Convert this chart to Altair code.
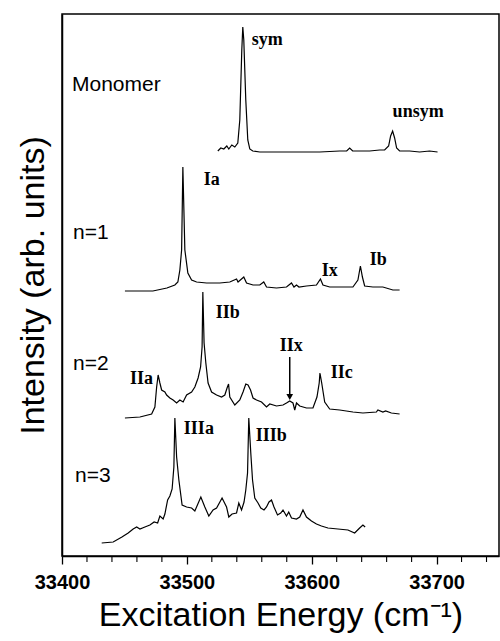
import altair as alt
import pandas as pd

# ---------------- data ----------------
series_names = ["Monomer", "n=1", "n=2", "n=3"]
offsets = [40.4, 26.5, 13.8, 1.3]   # vertical stacking offsets (arb. units)

mono_x = [33524.8, 33527.2, 33529.6, 33532.0, 33533.6, 33536.0, 33538.4, 33540.8, 33542.4, 33544.0,
          33544.8, 33545.6, 33547.2, 33548.8, 33550.4, 33552.8, 33558.4, 33574.4, 33590.4, 33606.4,
          33622.4, 33628.0, 33630.4, 33632.8, 33638.4, 33646.4, 33654.4, 33658.4, 33661.6, 33663.2,
          33664.8, 33666.4, 33668.0, 33670.4, 33678.4, 33686.4, 33694.4, 33700.8]
mono_y = [0.1, 0.4, 0.3, 0.6, 0.3, 0.7, 0.5, 0.9, 3.2, 10.2,
          12.5, 11.2, 5.2, 1.2, 0.3, 0.1, 0.0, 0.0, 0.0, 0.0,
          0.1, 0.1, 0.4, 0.1, 0.1, 0.1, 0.2, 0.2, 0.6, 1.6,
          2.1, 1.4, 0.4, 0.1, 0.1, 0.0, 0.1, 0.0]

n1_x = [33450.4, 33472.8, 33484.0, 33490.4, 33492.8, 33494.4, 33495.8, 33496.8, 33498.4, 33500.8,
        33503.8, 33507.8, 33515.8, 33526.4, 33534.4, 33539.8, 33541.0, 33545.6, 33547.8, 33553.0,
        33558.4, 33561.6, 33563.8, 33571.8, 33579.8, 33583.8, 33585.8, 33587.8, 33589.8, 33595.8,
        33603.8, 33607.0, 33609.0, 33614.4, 33625.0, 33633.0, 33637.0, 33639.0, 33640.6, 33642.4,
        33649.0, 33657.0, 33665.0, 33670.4]
n1_y = [0.0, 0.0, 0.3, 0.6, 0.9, 2.1, 4.1, 12.4, 4.1, 1.8,
        1.1, 0.9, 0.8, 0.8, 0.9, 1.2, 0.9, 1.4, 0.8, 0.6,
        0.6, 0.9, 0.4, 0.3, 0.4, 0.8, 0.4, 0.6, 0.4, 0.5,
        0.6, 1.2, 0.6, 0.4, 0.4, 0.4, 1.1, 2.5, 1.4, 0.5,
        0.4, 0.4, 0.1, 0.1]

n2_x = [33450.4, 33462.4, 33471.8, 33474.4, 33475.8, 33477.0, 33478.4, 33479.8, 33482.4, 33483.8,
        33486.4, 33489.0, 33491.8, 33494.4, 33497.0, 33499.8, 33503.8, 33506.4, 33509.0, 33511.0,
        33512.2, 33512.8, 33513.8, 33515.2, 33517.0, 33519.8, 33523.8, 33527.8, 33530.4, 33532.2,
        33533.4, 33534.4, 33538.4, 33542.4, 33545.0, 33547.2, 33549.0, 33551.0, 33553.0, 33555.8,
        33559.8, 33563.8, 33566.4, 33571.8, 33577.0, 33579.8, 33582.4, 33585.0, 33586.4, 33587.8,
        33590.4, 33595.8, 33601.0, 33604.2, 33606.0, 33606.6, 33608.0, 33610.4, 33614.4, 33622.4,
        33633.0, 33641.0, 33651.8, 33653.0, 33657.0, 33659.2, 33663.8, 33670.4]
n2_y = [0.0, 0.1, 0.4, 1.1, 3.1, 4.3, 3.5, 2.8, 2.6, 2.3,
        2.0, 1.8, 1.5, 1.8, 1.6, 2.3, 2.6, 3.1, 4.0, 5.1,
        7.1, 12.6, 7.5, 5.5, 3.5, 2.6, 2.3, 2.1, 2.3, 3.0,
        3.4, 2.1, 1.3, 1.8, 2.6, 3.4, 3.3, 2.8, 2.0, 1.8,
        1.6, 1.1, 1.4, 1.2, 1.3, 1.5, 1.7, 1.5, 0.8, 1.5,
        1.2, 1.0, 1.0, 2.1, 3.5, 4.5, 3.5, 1.6, 0.9, 0.8,
        0.6, 0.5, 0.6, 0.8, 0.6, 0.7, 0.5, 0.4]

n3_x = [33431.8, 33441.0, 33448.0, 33453.0, 33457.0, 33459.8, 33462.4, 33466.4, 33470.4, 33473.8,
        33476.6, 33478.4, 33481.0, 33482.4, 33484.6, 33486.4, 33488.2, 33489.6, 33490.4, 33491.8,
        33493.6, 33496.2, 33499.8, 33503.8, 33506.4, 33511.2, 33514.4, 33517.6, 33521.0, 33523.8,
        33528.2, 33531.8, 33533.6, 33536.2, 33539.8, 33541.6, 33543.8, 33545.8, 33547.2, 33548.6,
        33549.6, 33551.2, 33552.6, 33554.4, 33557.0, 33559.2, 33561.8, 33563.8, 33565.8, 33567.8,
        33569.8, 33572.6, 33575.2, 33577.0, 33579.8, 33581.6, 33583.8, 33587.8, 33590.4, 33593.0,
        33595.8, 33599.8, 33603.8, 33607.8, 33613.0, 33621.0, 33629.0, 33634.4, 33638.4, 33641.0,
        33642.8]
n3_y = [0.0, 0.1, 0.6, 1.0, 1.4, 1.6, 1.4, 1.6, 1.8, 2.1,
        2.0, 2.7, 2.4, 2.9, 4.3, 4.7, 5.4, 7.6, 12.5, 8.6,
        6.3, 3.8, 3.6, 3.5, 3.2, 4.6, 3.6, 2.7, 3.3, 3.5,
        4.5, 3.6, 2.6, 2.9, 3.0, 4.0, 3.3, 4.1, 5.3, 7.0,
        12.5, 9.0, 6.3, 4.5, 4.0, 3.5, 3.3, 3.6, 4.1, 4.3,
        3.6, 2.8, 3.0, 3.3, 2.7, 3.1, 2.5, 2.4, 2.6, 3.3,
        2.6, 2.2, 1.9, 1.7, 1.5, 1.4, 1.3, 1.0, 1.5, 1.8,
        1.6]

# trace name labels
name_text = ["Monomer", "n=1", "n=2", "n=3"]
name_x = [33408.0, 33408.8, 33408.8, 33410.4]
name_y = [47.1, 32.3, 19.2, 8.0]

# peak assignment labels
peak_text = ["sym", "unsym", "Ia", "Ix", "Ib", "IIa", "IIb", "IIx", "IIc", "IIIa", "IIIb"]
peak_x = [33552.0, 33664.8, 33513.6, 33608.0, 33646.4, 33454.4, 33523.2, 33574.4, 33615.2, 33497.6, 33555.2]
peak_y = [51.6, 44.4, 37.6, 28.5, 29.6, 17.7, 24.3, 21.0, 18.3, 12.7, 12.0]

# arrow marking IIx
arrow_x = [33582.4]
arrow_top = [19.9]
arrow_bottom = [15.9]

major_ticks = [33400, 33500, 33600, 33700]
minor_ticks = [v for v in range(33420, 33760, 20) if v % 100 != 0]

# ---------------- build tables ----------------
rows = []
for name, off, xs, ys in zip(series_names, offsets,
                             [mono_x, n1_x, n2_x, n3_x], [mono_y, n1_y, n2_y, n3_y]):
    for xv, yv in zip(xs, ys):
        rows.append({"series": name, "x": xv, "y": yv + off})
df = pd.DataFrame(rows)

names_df = pd.DataFrame({"t": name_text, "x": name_x, "y": name_y})
peaks_df = pd.DataFrame({"t": peak_text, "x": peak_x, "y": peak_y})
arrow_df = pd.DataFrame({"x": arrow_x, "y1": arrow_top, "y2": arrow_bottom})
minor_df = pd.DataFrame({"x": minor_ticks})

xscale = alt.Scale(domain=[33400, 33750], nice=False, zero=False)
yscale = alt.Scale(domain=[0, 54.2], nice=False, zero=False)

xaxis = alt.Axis(
    title="Excitation Energy (cm⁻¹)",
    values=major_ticks,
    format="d",
    labelOverlap=False,
    labelFont="Liberation Sans", labelFontWeight="bold", labelFontSize=20,
    labelColor="black", labelPadding=8, labelFlush=False,
    tickSize=8, tickColor="black", tickWidth=1.3,
    domainColor="black", domainWidth=1.5,
    titleFont="Liberation Sans", titleFontWeight="normal", titleFontSize=34,
    titleColor="black", titlePadding=6,
    grid=False,
)
yaxis = alt.Axis(
    title="Intensity (arb. units)",
    labels=False, ticks=False, grid=False,
    domainColor="black", domainWidth=1.5,
    titleFont="Liberation Sans", titleFontWeight="normal", titleFontSize=34,
    titleColor="black", titlePadding=12,
)

lines = alt.Chart(df).mark_line(color="black", strokeWidth=1.2).encode(
    x=alt.X("x:Q", scale=xscale, axis=xaxis),
    y=alt.Y("y:Q", scale=yscale, axis=yaxis),
    detail="series:N",
)

minor = alt.Chart(minor_df).mark_rule(color="black", strokeWidth=1.1).encode(
    x=alt.X("x:Q", scale=xscale),
    y=alt.value(542), y2=alt.value(548),
)

names = alt.Chart(names_df).mark_text(
    align="left", baseline="middle", font="Liberation Sans", fontSize=21, color="black"
).encode(x=alt.X("x:Q", scale=xscale), y=alt.Y("y:Q", scale=yscale), text="t:N")

peaks = alt.Chart(peaks_df).mark_text(
    align="left", baseline="middle", font="Liberation Serif", fontWeight="bold",
    fontSize=18, color="black"
).encode(x=alt.X("x:Q", scale=xscale), y=alt.Y("y:Q", scale=yscale), text="t:N")

arrow_line = alt.Chart(arrow_df).mark_rule(color="black", strokeWidth=1.5).encode(
    x=alt.X("x:Q", scale=xscale), y=alt.Y("y1:Q", scale=yscale), y2="y2:Q"
)
arrow_head = alt.Chart(arrow_df).mark_point(
    shape="triangle-down", filled=True, color="black", size=45, opacity=1
).encode(x=alt.X("x:Q", scale=xscale), y=alt.Y("y2:Q", scale=yscale))

chart = alt.layer(lines, minor, names, peaks, arrow_line, arrow_head).properties(
    width=437, height=542,
    autosize=alt.AutoSizeParams(type="none"),
    padding={"left": 62, "top": 14, "right": 1, "bottom": 85},
    background="white",
).configure_view(stroke="black", strokeWidth=1.5)

chart.save("out.html", embed_options={"renderer": "svg", "actions": False})
